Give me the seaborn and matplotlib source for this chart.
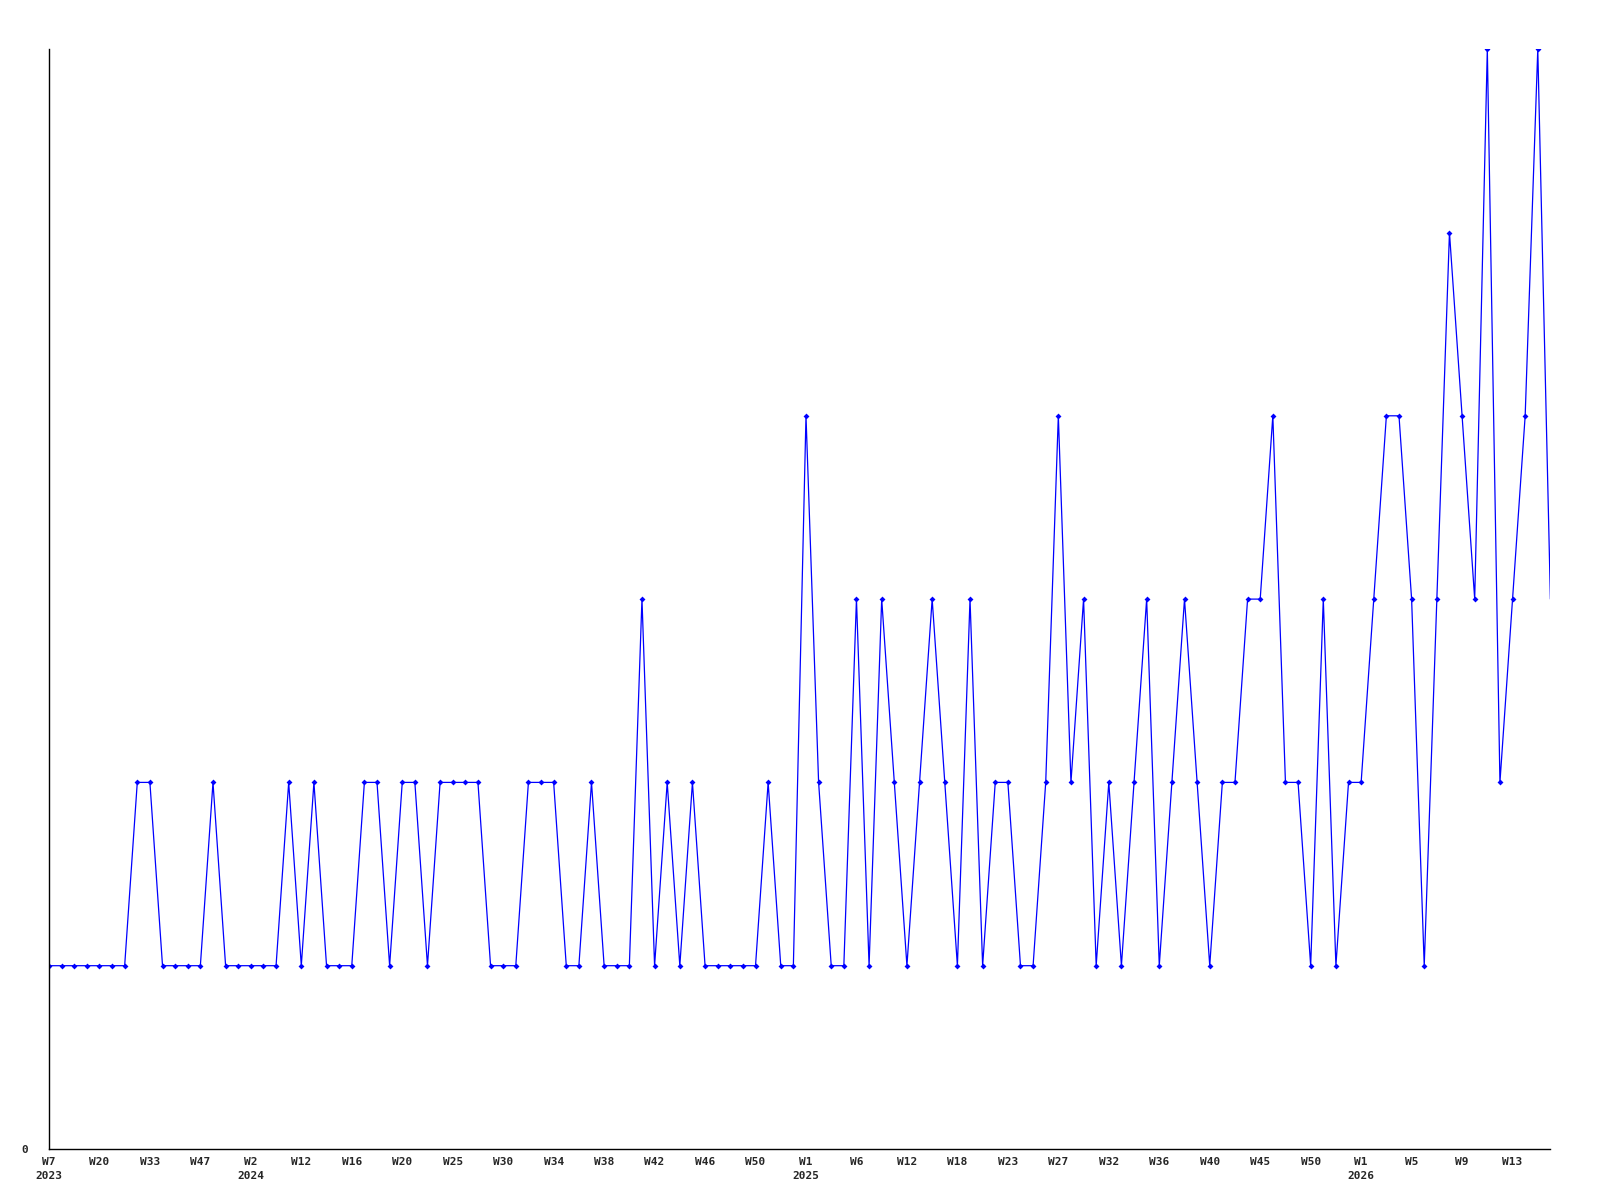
import matplotlib
matplotlib.use("Agg")
import matplotlib.pyplot as plt
import seaborn as sns
import pandas as pd
import numpy as np

values = [1, 1, 1, 1, 1, 1, 1, 2, 2, 1,
          1, 1, 1, 2, 1, 1, 1, 1, 1, 2,
          1, 2, 1, 1, 1, 2, 2, 1, 2, 2,
          1, 2, 2, 2, 2, 1, 1, 1, 2, 2,
          2, 1, 1, 2, 1, 1, 1, 3, 1, 2,
          1, 2, 1, 1, 1, 1, 1, 2, 1, 1,
          4, 2, 1, 1, 3, 1, 3, 2, 1, 2,
          3, 2, 1, 3, 1, 2, 2, 1, 1, 2,
          4, 2, 3, 1, 2, 1, 2, 3, 1, 2,
          3, 2, 1, 2, 2, 3, 3, 4, 2, 2,
          1, 3, 1, 2, 2, 3, 4, 4, 3, 1,
          3, 5, 4, 3, 6, 2, 3, 4, 6, 3]

tick_labels = ["W7\n2023", "W20", "W33", "W47", "W2\n2024", "W12", "W16", "W20",
               "W25", "W30", "W34", "W38", "W42", "W46", "W50", "W1\n2025",
               "W6", "W12", "W18", "W23", "W27", "W32", "W36", "W40",
               "W45", "W50", "W1\n2026", "W5", "W9", "W13"]
tick_step = 4

df = pd.DataFrame({"idx": np.arange(len(values)), "value": values})

sns.set_style("white")
plt.rcParams["font.family"] = ["DejaVu Sans Mono", "DejaVu Sans"]

fig = plt.figure(figsize=(16, 12), dpi=100)
ax = fig.add_axes([0.0306, 0.0425, 0.9384, 0.9165])

sns.lineplot(data=df, x="idx", y="value", ax=ax, color="#0000ff", linewidth=0.9,
             marker="D", markersize=3, markeredgewidth=0, markevery=list(range(len(values) - 1)))

ax.set_xlim(0, len(values) - 1)
ax.set_ylim(0, 6)
ax.set_xticks(np.arange(0, len(values), tick_step)[:len(tick_labels)])
ax.set_xticklabels(tick_labels, fontsize=8, fontweight="bold", linespacing=1.5)
ax.set_yticks([0])
ax.set_yticklabels(["0"], fontsize=8, fontweight="bold")
ax.tick_params(axis="both", length=0)
ax.tick_params(axis="x", pad=6)
ax.tick_params(axis="y", pad=15)
ax.set_xlabel("")
ax.set_ylabel("")
for s in ["top", "right"]:
    ax.spines[s].set_visible(False)
for s in ["left", "bottom"]:
    ax.spines[s].set_color("black")
    ax.spines[s].set_linewidth(1.0)
ax.grid(False)

fig.savefig("out.png", dpi=100, facecolor="white")
